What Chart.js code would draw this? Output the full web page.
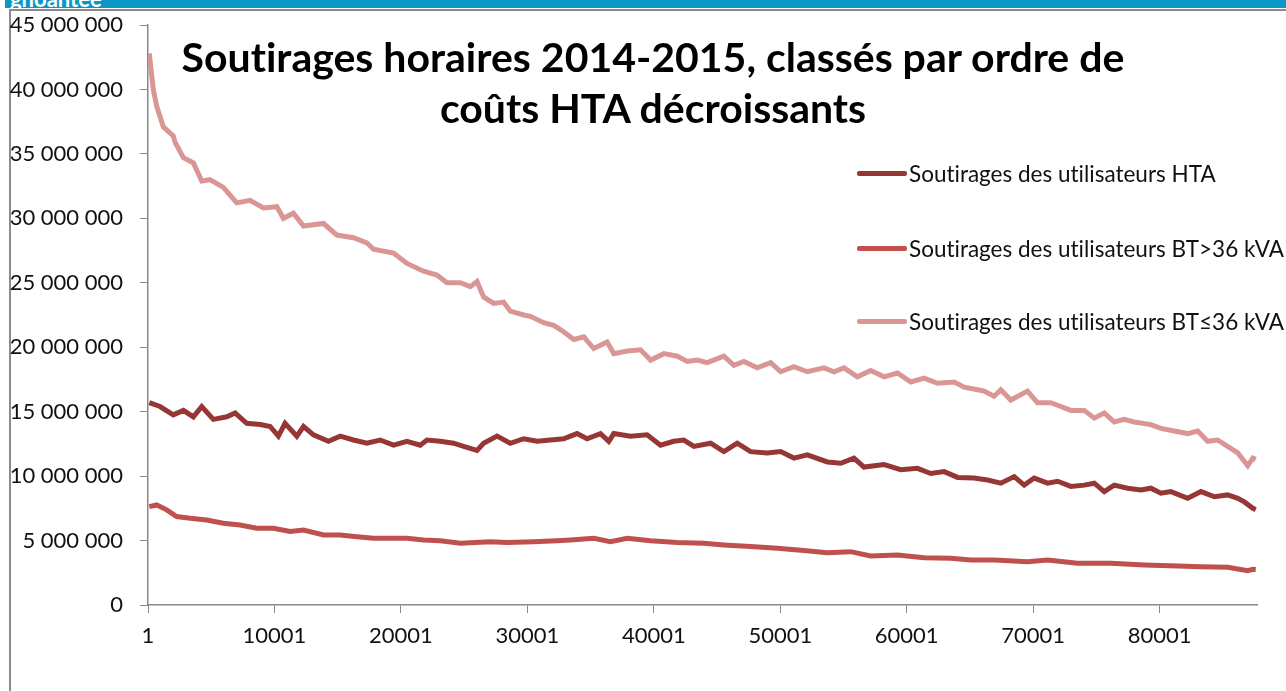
<!DOCTYPE html>
<html lang="fr">
<head>
<meta charset="utf-8">
<title>Soutirages horaires 2014-2015</title>
<script src="https://cdn.jsdelivr.net/npm/chart.js@4.4.1/dist/chart.umd.min.js"></script>
<style>
  html, body { margin: 0; padding: 0; background: #fff; }
  #wrap { position: relative; width: 1286px; height: 691px; overflow: hidden; font-family: Lato, "Open Sans", sans-serif; font-variant-ligatures: none; font-feature-settings: "liga" 0; }
  #topbar { position: absolute; left: 5px; top: 0; width: 1281px; height: 8px; background: #0b97c4; overflow: hidden; }
  #topbar span { position: absolute; left: 5px; top: -15px; color: #fff; font-weight: bold; font-size: 22px; }
  #frame { position: absolute; left: 9px; top: 9px; width: 1300px; height: 700px; border-left: 2px solid #8c8c8c; border-top: 2px solid #8c8c8c; }
  #chart { position: absolute; left: 0; top: 0; }
  #title { position: absolute; left: 0; width: 1306px; top: 31px; text-align: center; font-weight: bold; font-size: 41px; line-height: 51px; color: #000; }
  .leg { position: absolute; left: 857px; height: 26px; display: flex; align-items: center; font-size: 22.5px; color: #111; white-space: nowrap; }
  .leg i { display: inline-block; width: 50px; height: 5px; border-radius: 2px; margin-right: 2px; }
</style>
</head>
<body>
<div id="wrap">
  <div id="topbar"><span>gnoantee</span></div>
  <div id="frame"></div>
  <canvas id="chart" width="1286" height="691"></canvas>
  <div id="title">Soutirages horaires 2014-2015, classés par ordre de<br>coûts HTA décroissants</div>
  <div id="legend"></div>
</div>
<script>
const labels = ['Soutirages des utilisateurs HTA', 'Soutirages des utilisateurs BT>36 kVA', 'Soutirages des utilisateurs BT≤36 kVA'];
const colors = ['#963735', '#c0504d', '#d99694'];
const xTicks = [1, 10001, 20001, 30001, 40001, 50001, 60001, 70001, 80001];
const yTicks = [0, 5000000, 10000000, 15000000, 20000000, 25000000, 30000000, 35000000, 40000000, 45000000];
const lastHour = 87700;

// rang horaire (classé par coût HTA décroissant) et valeurs
const htaRank = [100, 950, 2000, 2800, 3590, 4250, 5170, 6230, 6890, 7810, 8870, 9660, 10310, 10840, 11770, 12300,
  13090, 14270, 15200, 16250, 17310, 18360, 19420, 20480, 21530, 22060, 23110, 24170, 24960, 26020, 26540, 27600,
  28650, 29710, 30770, 31820, 32870, 33930, 34720, 35780, 36440, 36840, 38150, 39470, 40530, 41580, 42370, 43170,
  44490, 45540, 46600, 47650, 48970, 50030, 51080, 52140, 53720, 54780, 55830, 56620, 58210, 59530, 60850, 61900,
  62960, 64020, 65330, 66390, 67440, 68500, 69290, 70080, 71140, 71930, 72980, 74040, 74830, 75620, 76410, 77470,
  78530, 79310, 80100, 80890, 82220, 83270, 84330, 85380, 86180, 86700, 87370, 87600];
const htaValues = [15.7e6, 15.4e6, 14.75e6, 15.1e6, 14.6e6, 15.4e6, 14.4e6, 14.6e6, 14.9e6, 14.1e6, 14.0e6, 13.85e6, 13.1e6, 14.1e6, 13.1e6, 13.85e6,
  13.2e6, 12.7e6, 13.1e6, 12.8e6, 12.55e6, 12.8e6, 12.4e6, 12.7e6, 12.4e6, 12.8e6, 12.7e6, 12.55e6, 12.3e6, 12.0e6, 12.55e6, 13.1e6,
  12.55e6, 12.9e6, 12.7e6, 12.8e6, 12.9e6, 13.3e6, 12.9e6, 13.3e6, 12.7e6, 13.3e6, 13.1e6, 13.2e6, 12.4e6, 12.7e6, 12.8e6, 12.3e6,
  12.55e6, 11.9e6, 12.55e6, 11.9e6, 11.8e6, 11.9e6, 11.4e6, 11.65e6, 11.1e6, 11.0e6, 11.4e6, 10.7e6, 10.9e6, 10.5e6, 10.6e6, 10.2e6,
  10.35e6, 9.9e6, 9.85e6, 9.7e6, 9.45e6, 9.96e6, 9.3e6, 9.85e6, 9.45e6, 9.6e6, 9.2e6, 9.3e6, 9.45e6, 8.8e6, 9.3e6, 9.06e6,
  8.93e6, 9.06e6, 8.67e6, 8.8e6, 8.28e6, 8.8e6, 8.4e6, 8.54e6, 8.28e6, 8.0e6, 7.5e6, 7.4e6];

const btSupRank = [100, 690, 1480, 2270, 3330, 4650, 5960, 7280, 8600, 9920, 11240, 12300, 13880, 15200, 16520, 17830,
  20480, 21790, 23110, 24700, 27070, 28390, 30500, 32350, 33400, 35250, 36570, 37900, 39740, 41850, 43960, 45540,
  47650, 49770, 51870, 53720, 55570, 57150, 59270, 61380, 63490, 65070, 66910, 69550, 71140, 73510, 76150, 78790,
  81430, 83270, 85380, 86970, 87370, 87600];
const btSupValues = [7.63e6, 7.76e6, 7.38e6, 6.86e6, 6.73e6, 6.6e6, 6.34e6, 6.2e6, 5.96e6, 5.96e6, 5.7e6, 5.82e6, 5.43e6, 5.43e6, 5.3e6, 5.18e6,
  5.18e6, 5.05e6, 4.99e6, 4.79e6, 4.91e6, 4.84e6, 4.91e6, 4.99e6, 5.05e6, 5.18e6, 4.91e6, 5.18e6, 4.99e6, 4.84e6, 4.79e6, 4.66e6,
  4.53e6, 4.4e6, 4.22e6, 4.06e6, 4.14e6, 3.8e6, 3.88e6, 3.67e6, 3.63e6, 3.49e6, 3.49e6, 3.36e6, 3.49e6, 3.24e6, 3.24e6, 3.11e6,
  3.03e6, 2.97e6, 2.93e6, 2.66e6, 2.77e6, 2.75e6];

const btInfRank = [100, 420, 690, 1210, 2000, 2140, 2800, 3590, 4250, 4900, 5960, 7020, 8070, 9130, 10190, 10710,
  11500, 12300, 13880, 14940, 16250, 17310, 17830, 19420, 20480, 21790, 22850, 23640, 24700, 25490, 26020, 26540,
  27330, 28120, 28650, 29710, 30240, 31290, 32080, 32870, 33670, 34460, 35250, 36310, 36840, 37900, 38950, 39750,
  40800, 41860, 42650, 43440, 44220, 45540, 46330, 47120, 48180, 49240, 50030, 51080, 52140, 53460, 54250, 55040,
  56100, 57150, 58210, 59270, 60320, 61380, 62430, 63750, 64540, 65600, 66120, 66910, 67440, 68230, 69550, 70340,
  71400, 72190, 72980, 74040, 74830, 75620, 76410, 77200, 77990, 79310, 80100, 81160, 82220, 83010, 83800, 84590,
  85380, 86180, 86970, 87370, 87600];
const btInfValues = [42.8e6, 40.0e6, 38.7e6, 37.1e6, 36.4e6, 35.9e6, 34.7e6, 34.3e6, 32.9e6, 33.0e6, 32.4e6, 31.2e6, 31.4e6, 30.8e6, 30.9e6, 30.0e6,
  30.4e6, 29.4e6, 29.6e6, 28.7e6, 28.5e6, 28.1e6, 27.6e6, 27.3e6, 26.5e6, 25.9e6, 25.6e6, 25.0e6, 25.0e6, 24.7e6, 25.1e6, 23.9e6,
  23.4e6, 23.5e6, 22.8e6, 22.5e6, 22.4e6, 21.9e6, 21.7e6, 21.2e6, 20.6e6, 20.8e6, 19.9e6, 20.4e6, 19.5e6, 19.7e6, 19.8e6, 19.0e6,
  19.5e6, 19.3e6, 18.9e6, 19.0e6, 18.8e6, 19.3e6, 18.6e6, 18.9e6, 18.4e6, 18.8e6, 18.1e6, 18.5e6, 18.1e6, 18.4e6, 18.1e6, 18.4e6,
  17.7e6, 18.2e6, 17.7e6, 18.0e6, 17.3e6, 17.6e6, 17.2e6, 17.3e6, 16.9e6, 16.7e6, 16.6e6, 16.2e6, 16.7e6, 15.9e6, 16.6e6, 15.7e6,
  15.7e6, 15.4e6, 15.1e6, 15.1e6, 14.5e6, 14.9e6, 14.2e6, 14.4e6, 14.2e6, 14.0e6, 13.7e6, 13.5e6, 13.3e6, 13.5e6, 12.7e6, 12.8e6,
  12.3e6, 11.8e6, 10.8e6, 11.4e6, 11.3e6];

function points(ranks, values) {
  return ranks.map((r, i) => ({ x: r, y: values[i] }));
}

function spaced(v) {
  return String(v).replace(/\B(?=(\d{3})+(?!\d))/g, ' ');
}

const series = [points(htaRank, htaValues), points(btSupRank, btSupValues), points(btInfRank, btInfValues)];
const axisColor = '#888888';
const tickFont = { family: 'Lato', size: 22 };

const chart = new Chart(document.getElementById('chart').getContext('2d'), {
  type: 'line',
  data: {
    datasets: series.map((d, i) => ({
      label: labels[i],
      data: d,
      borderColor: colors[i],
      backgroundColor: colors[i],
      borderWidth: 5,
      pointRadius: 0,
      tension: 0,
      fill: false
    }))
  },
  options: {
    responsive: false,
    animation: false,
    layout: { padding: { left: 0, top: 25, right: 29, bottom: 0 } },
    plugins: { legend: { display: false }, tooltip: { enabled: false }, title: { display: false } },
    scales: {
      x: {
        type: 'linear',
        min: 1,
        max: lastHour,
        afterBuildTicks: s => { s.ticks = xTicks.map(v => ({ value: v })); },
        afterFit: s => { s.height = 86; s.paddingLeft = 0; s.paddingRight = 0; },
        grid: { drawOnChartArea: false, drawTicks: true, tickLength: 8, color: axisColor },
        border: { color: axisColor, width: 1.5 },
        ticks: { color: '#111', font: tickFont, padding: 10, maxRotation: 0, callback: v => String(v) }
      },
      y: {
        min: yTicks[0],
        max: yTicks[yTicks.length - 1],
        afterBuildTicks: s => { s.ticks = yTicks.map(v => ({ value: v })); },
        afterFit: s => { s.width = 148; s.paddingTop = 0; s.paddingBottom = 0; },
        grid: { drawOnChartArea: false, drawTicks: true, tickLength: 8, color: axisColor },
        border: { color: axisColor, width: 1.5 },
        ticks: { color: '#111', font: tickFont, padding: 17, callback: v => spaced(v) }
      }
    }
  }
});

const legendTops = [160, 235, 308];
const legend = document.getElementById('legend');
chart.data.datasets.forEach((ds, i) => {
  const item = document.createElement('div');
  item.className = 'leg';
  item.style.top = legendTops[i] + 'px';
  item.innerHTML = '<i style="background:' + ds.borderColor + '"></i>';
  item.appendChild(document.createTextNode(ds.label));
  legend.appendChild(item);
});
</script>
</body>
</html>
